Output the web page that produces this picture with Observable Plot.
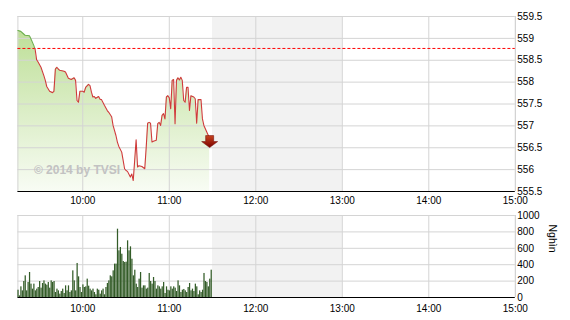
<!DOCTYPE html>
<html><head><meta charset="utf-8">
<script src="https://cdn.jsdelivr.net/npm/d3@7"></script>
<script src="https://cdn.jsdelivr.net/npm/@observablehq/plot@0.6"></script>
<style>
body{margin:0;background:#fff;}
#chart svg{display:block;}
</style></head><body><div id="chart"></div>
<script>
// ---------- data ----------
const priceTimes = ["09:15","09:17","09:19","09:20","09:23","09:24","09:26","09:27","09:28","09:29",
"09:31","09:33","09:34","09:35","09:37","09:39","09:40","09:41","09:42","09:43",
"09:44","09:47","09:48","09:50","09:52","09:54","09:55","09:56","09:57","09:58",
"10:00","10:01","10:02","10:04","10:05","10:06","10:07","10:08","10:09","10:11",
"10:12","10:13","10:15","10:17","10:18","10:20","10:21","10:23","10:24","10:25",
"10:27","10:28","10:29","10:30","10:31","10:33","10:34","10:35","10:36","10:37",
"10:38","10:39","10:41","10:43","10:44","10:45","10:46","10:47","10:48","10:49",
"10:51","10:52","10:53","10:54","10:55","10:56","10:57","10:58","10:59","11:00",
"11:01","11:02","11:03","11:04","11:05","11:06","11:07","11:08","11:09","11:10",
"11:11","11:12","11:13","11:14","11:15","11:17","11:18","11:19","11:20","11:22",
"11:23","11:24","11:26","11:28"];
const priceValues = [559.18,559.16,559.10,559.07,559.06,558.99,558.84,558.74,558.51,558.46,
558.34,558.15,558.04,557.90,557.79,557.76,557.79,558.30,558.34,558.30,
558.27,558.25,558.23,558.09,558.06,558.10,558.04,557.58,557.54,557.79,
557.79,557.77,557.88,557.95,557.92,557.77,557.66,557.67,557.63,557.67,
557.61,557.60,557.47,557.35,557.31,557.21,557.01,556.78,556.63,556.53,
556.40,556.21,556.02,555.98,555.96,555.83,555.90,555.75,556.21,556.68,
556.06,556.09,556.07,556.02,556.51,557.06,557.08,557.06,556.63,556.65,
556.67,557.05,557.08,557.01,557.24,557.28,557.16,557.66,557.69,557.64,
557.39,558.04,558.06,557.05,558.04,558.10,558.05,558.11,558.04,557.58,
557.54,557.88,557.88,557.35,557.69,557.66,557.62,557.06,557.60,557.60,
557.16,557.01,556.86,556.71];
const refPrice = 558.77;
const priceTicks = [555.5,556,556.5,557,557.5,558,558.5,559,559.5];

const volumeStart = "09:15"; // one bar per minute from here
const volumeValues = [89,20,130,81,195,264,81,183,305,163,
102,163,81,102,122,195,114,171,203,163,
150,183,114,203,183,195,61,102,81,41,
73,102,49,142,81,142,61,81,325,203,
81,415,252,122,61,154,122,130,224,138,
102,81,102,61,33,102,89,41,81,102,
33,122,171,203,264,252,325,407,407,833,
569,610,528,439,427,431,691,569,618,467,
264,333,163,122,224,305,114,142,142,102,
114,293,195,163,244,195,102,142,130,102,
130,183,49,130,89,81,130,102,130,114,
73,203,142,61,89,98,81,61,122,171,
81,102,73,163,130,33,81,61,89,293,
195,183,130,224,333];
const volumeTicks = [0,200,400,600,800,1000];
const timeTicks = ["10:00","11:00","12:00","13:00","14:00","15:00"];
const sessionStart = "09:15", sessionEnd = "15:00";
const breakStart = "11:30", breakEnd = "13:00";
const watermark = "© 2014 by TVSI";
const volumeLabel = "Nghìn";

// ---------- prep ----------
const parse = d3.utcParse("%H:%M");
const fmt = d3.utcFormat("%H:%M");
const prices = priceTimes.map((t, i) => ({t: parse(t), v: priceValues[i]}));
const v0 = parse(volumeStart);
const volumes = volumeValues.map((v, i) => ({t: d3.utcMinute.offset(v0, i), v}));
const xDomain = [parse(sessionStart), parse(sessionEnd)];
const xTicks = timeTicks.map(parse);
const gridX = [parse(sessionStart), ...xTicks.slice(0, -1)];
const band = [{a: parse(breakStart), b: parse(breakEnd)}];
const W = 570, ML = 17.4, MR = 55.2;
const font = "'Liberation Sans', Arial, sans-serif";
const gridColor = "#d4d4d4";

const H1 = 205, MT1 = 16, MB1 = 14;
const yMin = priceTicks[0], yMax = priceTicks[priceTicks.length - 1];
const refPx = MT1 + (yMax - refPrice) / (yMax - yMin) * (H1 - MT1 - MB1);

const defs = () => {
  const g = document.createElementNS("http://www.w3.org/2000/svg", "g");
  g.innerHTML = `<defs>
   <linearGradient id="areaGrad" x1="0" y1="0" x2="0" y2="1">
     <stop offset="0" stop-color="#bedf98"/>
     <stop offset="1" stop-color="#f8fcf4"/>
   </linearGradient>
   <linearGradient id="lineGrad" gradientUnits="userSpaceOnUse" x1="0" y1="0" x2="0" y2="${H1}">
     <stop offset="${refPx / H1}" stop-color="#6cae4e"/>
     <stop offset="${refPx / H1}" stop-color="#cf3a3a"/>
   </linearGradient>
   <linearGradient id="arrowGrad" x1="0" y1="0" x2="0" y2="1">
     <stop offset="0" stop-color="#c8431e"/>
     <stop offset="1" stop-color="#7a0000"/>
   </linearGradient>
  </defs>`;
  return g;
};

const arrowSymbol = {
  draw(ctx) {
    ctx.moveTo(-4, -3); ctx.lineTo(4, -3); ctx.lineTo(4, 3); ctx.lineTo(8, 3);
    ctx.lineTo(0, 9); ctx.lineTo(-8, 3); ctx.lineTo(-4, 3); ctx.closePath();
  }
};
const numFmt = d => `${d}`;

const priceChart = Plot.plot({
  width: W, height: H1, marginLeft: ML, marginRight: MR, marginTop: MT1, marginBottom: MB1,
  style: {fontFamily: font, fontSize: "10px", background: "#fff", overflow: "visible"},
  x: {type: "utc", domain: xDomain, label: null},
  y: {domain: [yMin, yMax], label: null},
  marks: [
    defs,
    Plot.rect(band, {x1: "a", x2: "b", fill: "#f2f2f2"}),
    Plot.areaY(prices, {x: "t", y1: yMin, y2: "v", fill: "url(#areaGrad)"}),
    Plot.ruleY(priceTicks.slice(1), {stroke: gridColor}),
    Plot.ruleX(gridX, {stroke: gridColor}),
    Plot.ruleX([xDomain[1]], {stroke: "#c8c8c8"}),
    Plot.text([watermark], {frameAnchor: "bottom-left", dx: 16, dy: -18, textAnchor: "start",
      fill: "#c2c2c2", fontWeight: "bold", fontSize: 12}),
    Plot.ruleY([refPrice], {stroke: "#ff0000", strokeDasharray: "3,2"}),
    Plot.line(prices, {x: "t", y: "v", stroke: "url(#lineGrad)", strokeWidth: 1.1}),
    Plot.ruleY([yMin], {stroke: "#000"}),
    Plot.dot(prices.slice(-1), {x: "t", y: "v", symbol: arrowSymbol, r: 5,
      fill: "url(#arrowGrad)", stroke: "#6a0000", strokeWidth: 0.5}),
    Plot.axisY({anchor: "right", ticks: priceTicks, tickFormat: numFmt, label: null, tickSize: 0, tickPadding: 2, letterSpacing: "-0.3px"}),
    Plot.axisX({ticks: xTicks, tickFormat: fmt, label: null, tickSize: 0, tickPadding: 5, letterSpacing: "-0.3px"})
  ]
});

const H2 = 115, MT2 = 10, MB2 = 23;
const volumeChart = Plot.plot({
  width: W, height: H2, marginLeft: ML, marginRight: MR, marginTop: MT2, marginBottom: MB2,
  style: {fontFamily: font, fontSize: "10px", background: "#fff", overflow: "visible"},
  x: {type: "utc", domain: xDomain, label: null},
  y: {domain: [volumeTicks[0], volumeTicks[volumeTicks.length - 1]], label: null},
  marks: [
    Plot.rect(band, {x1: "a", x2: "b", fill: "#f2f2f2"}),
    Plot.ruleY(volumeTicks.slice(1), {stroke: gridColor}),
    Plot.ruleX(gridX, {stroke: gridColor}),
    Plot.ruleX([xDomain[1]], {stroke: "#c8c8c8"}),
    Plot.rectY(volumes, {x: "t", y: "v", interval: d3.utcMinute, fill: "#335c28", insetRight: 0.2}),
    Plot.ruleY([0], {stroke: "#000"}),
    Plot.axisY({anchor: "right", ticks: volumeTicks, tickFormat: numFmt, label: null, tickSize: 0, tickPadding: 2, letterSpacing: "-0.3px"}),
    Plot.axisX({ticks: xTicks, tickFormat: fmt, label: null, tickSize: 0, tickPadding: 7, letterSpacing: "-0.3px"}),
    Plot.text([volumeLabel], {frameAnchor: "right", dx: 37, dy: -4, rotate: 90, fontSize: 10.5})
  ]
});

document.getElementById("chart").append(priceChart, volumeChart);
</script></body></html>
